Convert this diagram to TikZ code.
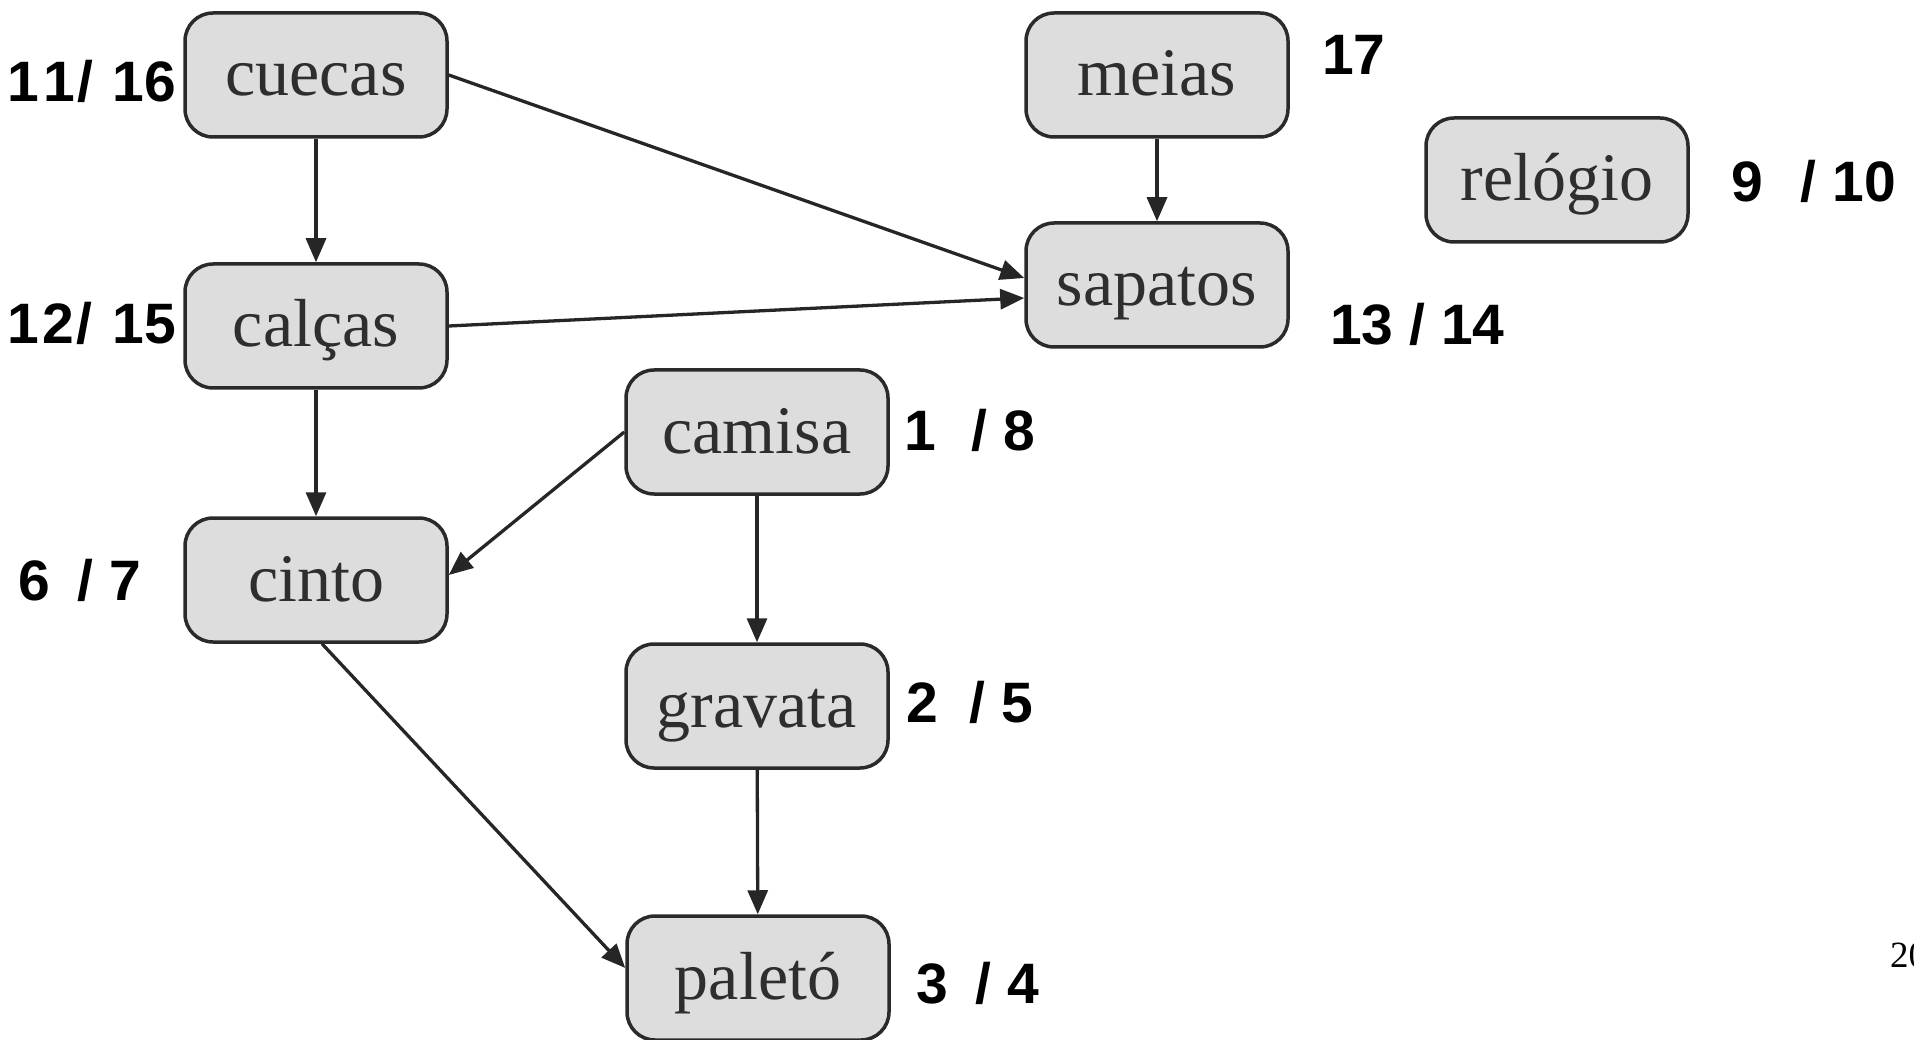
\documentclass[tikz,border=0pt]{standalone}
\usepackage{fontspec}
\setmainfont{Liberation Serif}
\newfontfamily\lblfont{Liberation Sans}
\usetikzlibrary{arrows.meta}
\definecolor{boxline}{HTML}{2A2A2A}
\definecolor{boxfill}{HTML}{DDDDDD}
\definecolor{boxtext}{HTML}{2E2E2E}
\definecolor{arrline}{HTML}{262626}
\begin{document}
\begin{tikzpicture}[x=1pt,y=-1pt,
  box/.style={draw=boxline, fill=boxfill, line width=3.5pt, rounded corners=28pt,
    minimum width=262pt, minimum height=124pt, inner sep=0pt,
    font=\fontsize{68}{68}\selectfont, text=boxtext, text height=42pt, text depth=0pt},
  num/.style={anchor=base west, inner sep=0pt, font=\lblfont\bfseries\fontsize{57}{57}\selectfont},
  arr/.style={draw=arrline, line width=3.3pt, -{Triangle[length=24pt,width=20pt]}}]
\useasboundingbox (0,0) rectangle (1914,1040);
% nodes
\node[box] (cuecas)  at (316,75)   {cuecas};
\node[box] (calcas)  at (316,326)  {calças};
\node[box] (cinto)   at (316,580)  {cinto};
\node[box] (camisa)  at (757,432)  {camisa};
\node[box] (gravata) at (757,706)  {gravata};
\node[box] (paleto)  at (758,978)  {paletó};
\node[box] (meias)   at (1157,75)  {meias};
\node[box] (sapatos) at (1157,285) {sapatos};
\node[box] (relogio) at (1557,180) {relógio};
% labels
\node[num] (l1) at (7,102)    {1\hspace{5pt}1\hspace{2pt}/\hspace{19pt}16};
\node[num] (l2) at (7,344)    {1\hspace{4pt}2\hspace{2pt}/\hspace{20pt}15};
\node[num] (l3) at (18,600)   {6\hspace{28pt}/ 7};
\node[num] (l4) at (904,450)  {1\hspace{36pt}/ 8};
\node[num] (l5) at (906,722)  {2\hspace{32pt}/ 5};
\node[num] (l6) at (916,1003) {3\hspace{28pt}/ 4};
\node[num] (l7) at (1322,75)  {17};
\node[num] (l8) at (1731,202) {9\hspace{38pt}/ 10};
\node[num] (l9) at (1330,345) {13 / 14};
\node[anchor=base west, inner sep=0pt, font=\fontsize{37}{37}\selectfont] (pg) at (1890,967) {20};
% edges
\draw[arr] (cuecas) -- (calcas);
\draw[arr] (calcas) -- (cinto);
\draw[arr] (meias) -- (sapatos);
\draw[arr] (camisa) -- (gravata);
\draw[arr] (gravata) -- (paleto);
\draw[arr] (cuecas.east) -- ([yshift=7pt]sapatos.west);
\draw[arr] (calcas.east) -- ([yshift=-13pt]sapatos.west);
\draw[arr] (camisa.west) -- ([yshift=5pt]cinto.east);
\draw[arr] ([xshift=6pt]cinto.south) -- ([yshift=10pt]paleto.west);
\end{tikzpicture}
\end{document}
